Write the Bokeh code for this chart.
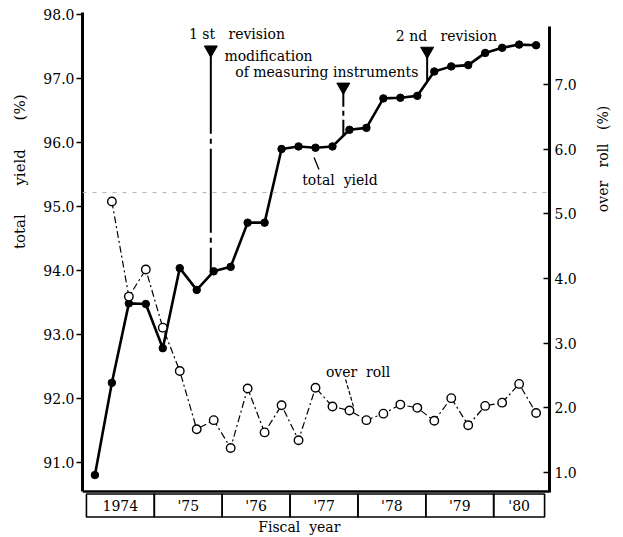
import math
import numpy as np
from bokeh.plotting import figure
from bokeh.models import Range1d, LinearAxis, FixedTicker, PrintfTickFormatter, Span, Title
from bokeh.core.properties import value
from bokeh.embed import file_html
from bokeh.resources import INLINE

# ---------------- data ----------------
fiscal_years = ["1974", "'75", "'76", "'77", "'78", "'79", "'80"]
quarters_per_year = [4, 4, 4, 4, 4, 4, 3]
total_yield = [90.81, 92.25, 93.49, 93.48, 92.79, 94.04, 93.70, 93.99, 94.06,
               94.75, 94.75, 95.90, 95.94, 95.92, 95.94, 96.20, 96.23, 96.69,
               96.70, 96.73, 97.11, 97.19, 97.21, 97.40, 97.48, 97.53, 97.52]
# over roll starts at the 2nd quarter of 1974
over_roll = [5.19, 3.72, 4.14, 3.24, 2.57, 1.67, 1.81, 1.38, 2.30, 1.62, 2.04,
             1.50, 2.31, 2.02, 1.96, 1.81, 1.91, 2.05, 2.00, 1.80, 2.15, 1.73,
             2.03, 2.08, 2.37, 1.92]
event_quarter = [7.33, 15.14, 20.08]     # 1st revision, instrument change, 2nd revision
event_top = [97.45, 96.87, 97.43]
yield_ticks = [91, 92, 93, 94, 95, 96, 97, 98]
over_ticks = [1, 2, 3, 4, 5, 6, 7]

FONT = value("DejaVu Serif")
NB = "\u00a0"

def sp(n):
    return NB * n

# helpers to place annotations (reference-pixel -> data)
def qx(px):
    return (px - 86) / 17.22

def vy(py):
    return 98 - (py - 15) / 64.05

x_yield = np.arange(len(total_yield)) + 0.5
x_over = np.arange(1, len(over_roll) + 1) + 0.5
edges = np.concatenate([[0], np.cumsum(quarters_per_year)])

p = figure(width=621, height=535, output_backend="svg", toolbar_location=None,
           x_range=Range1d(-0.232, 27.29), y_range=Range1d(89.866, 98.156),
           x_axis_location=None, y_axis_location="left",
           min_border_left=81, min_border_right=66, min_border_top=4, min_border_bottom=0)
p.outline_line_color = None
p.xgrid.visible = False
p.ygrid.visible = False
p.background_fill_color = "white"
p.border_fill_color = "white"

p.extra_y_ranges = {"over": Range1d(0.026, 8.237)}

# left axis
ya = p.yaxis[0]
ya.ticker = FixedTicker(ticks=yield_ticks)
ya.formatter = PrintfTickFormatter(format="%.1f")
ya.bounds = (90.553, 98.03)
ya.axis_line_width = 3
ya.major_tick_line_width = 1.5
ya.major_tick_out = 6
ya.major_tick_in = 0
ya.minor_tick_line_color = None
ya.major_label_standoff = 2
ya.major_label_text_font = "DejaVu Serif"
ya.major_label_text_font_size = "14px"
ya.major_label_text_color = "black"

# left title: text ends 90 px below the top of the frame and runs downward from there
p.add_layout(Title(text="total" + sp(6) + "yield" + sp(6) + "(%)", align="right", offset=90,
                   vertical_align="top", standoff=20, text_font="DejaVu Serif",
                   text_font_style="normal", text_font_size="15px", text_color="black"),
             "left")

# right axis
ra = LinearAxis(y_range_name="over", ticker=FixedTicker(ticks=over_ticks),
                formatter=PrintfTickFormatter(format="%.1f"), bounds=(0.691, 7.897))
ra.axis_line_width = 3
ra.major_tick_line_width = 1.5
ra.major_tick_out = 0
ra.major_tick_in = 6
ra.minor_tick_line_color = None
ra.major_label_standoff = 5
ra.major_label_text_font = "DejaVu Serif"
ra.major_label_text_font_size = "14px"
ra.major_label_text_color = "black"
p.add_layout(ra, "right")

rt = LinearAxis(ticker=FixedTicker(ticks=[]))
rt.axis_line_color = None
rt.major_tick_line_color = None
rt.minor_tick_line_color = None
rt.major_tick_out = 0
rt.major_tick_in = 0
rt.major_label_standoff = 0
rt.axis_label = sp(13) + "over" + sp(3) + "roll" + sp(3) + "(%)"
rt.axis_label_orientation = math.pi / 2
rt.axis_label_text_font = "DejaVu Serif"
rt.axis_label_text_font_style = "normal"
rt.axis_label_text_font_size = "14px"
rt.axis_label_text_color = "black"
rt.axis_label_standoff = 23
p.add_layout(rt, "right")

# bottom frame line
p.add_layout(Span(location=90.553, dimension="width", line_color="black", line_width=2.5))
# faint dashed scan line
p.add_layout(Span(location=95.22, dimension="width", line_color="#b5b5b5",
                  line_width=1, line_dash="4 6"))

# fiscal year table
p.quad(left=edges[:-1], right=edges[1:], top=vy(494.5), bottom=vy(517.5),
       fill_color=None, line_color="black", line_width=1.6)
p.text(x=(edges[:-1] + edges[1:]) / 2, y=[vy(506)] * len(fiscal_years), text=fiscal_years,
       text_font=FONT, text_font_size="14px", text_align="center",
       text_baseline="middle", text_color="black")
p.text(x=[qx(302)], y=[vy(527)], text=["Fiscal" + sp(2) + "year"], text_font=FONT,
       text_font_size="14px", text_align="center", text_baseline="middle",
       text_color="black")

# total yield
p.line(x_yield, total_yield, line_color="black", line_width=2.6)
p.scatter(x_yield, total_yield, size=7.5, marker="circle", fill_color="black",
          line_color="black")

# over roll
p.line(x_over, over_roll, y_range_name="over", line_color="black", line_width=1.2,
       line_dash="7 3 2 3")
p.scatter(x_over, over_roll, y_range_name="over", size=8.5, marker="circle",
          fill_color="white", line_color="black", line_width=1.4)

# revision / modification markers
event_bottom = np.interp(event_quarter, x_yield, total_yield)
dashes = ["84 5 5 5", "20 4 5 4", "solid"]
for xq, yt, yb, d in zip(event_quarter, event_top, event_bottom, dashes):
    p.segment(x0=[xq], y0=[yt], x1=[xq], y1=[yb], line_color="black", line_width=2,
              line_dash=d)
p.scatter(event_quarter, event_top, marker="inverted_triangle", size=13,
          fill_color="black", line_color="black")

# leader lines
p.segment(x0=[qx(317)], y0=[vy(158)], x1=[qx(322)], y1=[vy(170)], line_color="black",
          line_width=1.3)
p.segment(x0=[qx(349)], y0=[vy(380)], x1=[qx(357)], y1=[vy(407)], line_color="black",
          line_width=1.2, line_dash="4 2")

# text annotations
ann_text = ["1" + NB + "st" + sp(3) + "revision", "modification",
            "of" + NB + "measuring" + NB + "instruments",
            "2" + NB + "nd" + sp(3) + "revision", "total" + sp(2) + "yield",
            "over" + sp(2) + "roll"]
ann_x = [qx(190), qx(226), qx(237), qx(400), qx(305), qx(329)]
ann_y = [vy(35), vy(57), vy(73), vy(37), vy(180), vy(372)]
p.text(x=ann_x, y=ann_y, text=ann_text, text_font=FONT, text_font_size="14px",
       text_align="left", text_baseline="middle", text_color="black")

open("out.html", "w").write(file_html(p, INLINE))
